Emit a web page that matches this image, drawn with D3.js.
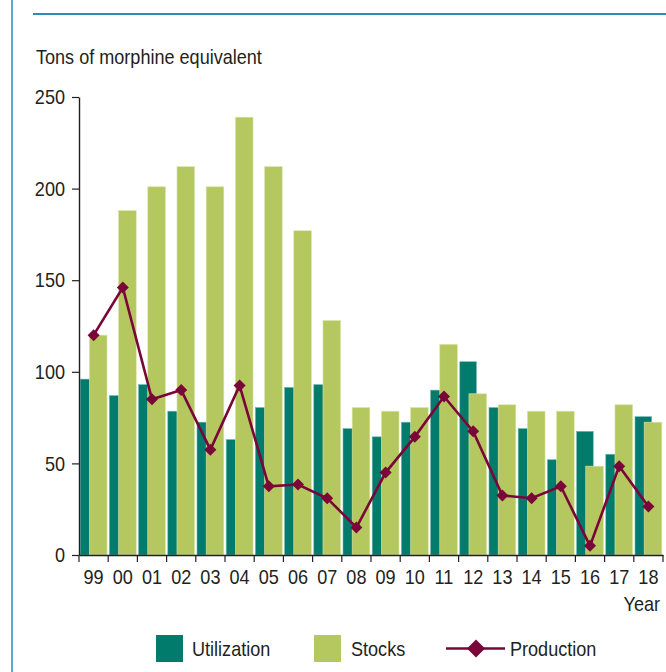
<!DOCTYPE html>
<html>
<head>
<meta charset="utf-8">
<script src="https://cdn.jsdelivr.net/npm/d3@7"></script>
<style>
  html, body { margin: 0; padding: 0; background: #fff; }
  svg text { font-family: "Liberation Sans", Arial, sans-serif; fill: #231f20; }
</style>
</head>
<body>
<div id="chart"></div>
<script>
// Chart data
const years = ['99', '00', '01', '02', '03', '04', '05', '06', '07', '08',
  '09', '10', '11', '12', '13', '14', '15', '16', '17', '18'];
const utilization = [96, 87, 93, 78.5, 72.5, 63, 80.5, 91.5, 93, 69,
  64.5, 72.5, 90, 105.5, 80.5, 69, 52, 67.5, 55, 75.5];
const stocks = [120, 188, 201, 212, 201, 239, 212, 177, 128, 80.5,
  78.5, 80.5, 115, 88, 82, 78.5, 78.5, 48.5, 82, 72.5];
const production = [120, 146, 85, 90, 57.5, 92.5, 37.5, 38.5, 31, 15,
  45, 64.5, 86.5, 67.5, 32.5, 31, 37.5, 5, 48.5, 26.5];
const yTicks = [0, 50, 100, 150, 200, 250];

const width = 666, height = 672;
const fontSize = 21;
const condense = 0.86; // narrow look of the original typeface
const colors = { util: '#007b6c', stocks: '#b5c860', prod: '#7a0538', frame: '#2a8bbd' };

const svg = d3.select('#chart').append('svg')
  .attr('width', width)
  .attr('height', height);

// Frame lines
svg.append('line')
  .attr('x1', 12).attr('x2', 12).attr('y1', 0).attr('y2', height)
  .attr('stroke', '#5aaad0').attr('stroke-width', 2);
svg.append('line')
  .attr('x1', 33).attr('x2', width).attr('y1', 14).attr('y2', 14)
  .attr('stroke', colors.frame).attr('stroke-width', 2);

// Scales
const x = d3.scaleBand().domain(years).range([79, 663]).paddingInner(0).paddingOuter(0);
const y = d3.scaleLinear().domain([0, 250]).range([555, 97]);
const bw = x.bandwidth();

// Unit title
svg.append('text')
  .attr('x', 36).attr('y', 64)
  .attr('font-size', fontSize)
  .text('Tons of morphine equivalent');

// Bars: utilization behind, stocks overlapping on top
svg.append('g').selectAll('rect')
  .data(utilization)
  .join('rect')
  .attr('x', (d, i) => x(years[i]) + 1.2)
  .attr('width', bw * 0.57)
  .attr('y', d => y(d))
  .attr('height', d => y(0) - y(d))
  .attr('fill', colors.util)
  .attr('stroke', '#6fb7ad').attr('stroke-width', 0.6);

svg.append('g').selectAll('rect')
  .data(stocks)
  .join('rect')
  .attr('x', (d, i) => x(years[i]) + bw * 0.355)
  .attr('width', bw * 0.605)
  .attr('y', d => y(d))
  .attr('height', d => y(0) - y(d))
  .attr('fill', colors.stocks)
  .attr('stroke', '#dbe6ad').attr('stroke-width', 0.6);

// Y axis
const yAxis = svg.append('g')
  .attr('transform', 'translate(79,0)')
  .call(d3.axisLeft(y).tickValues(yTicks).tickSize(7).tickSizeOuter(0).tickPadding(7));
yAxis.select('.domain').attr('stroke', '#231f20').attr('stroke-width', 1.4);
yAxis.selectAll('.tick line').attr('stroke', '#231f20').attr('stroke-width', 1.2);
yAxis.selectAll('.tick text').attr('font-size', fontSize).attr('font-family', null).attr('fill', '#231f20');

// X axis: labels centred in bands, ticks at band edges
const xAxis = svg.append('g')
  .attr('transform', `translate(0,${y(0)})`)
  .call(d3.axisBottom(x).tickSize(0).tickSizeOuter(0).tickPadding(14));
xAxis.select('.domain').attr('stroke', '#231f20').attr('stroke-width', 1.4);
xAxis.selectAll('.tick text').attr('font-size', fontSize).attr('font-family', null).attr('fill', '#231f20');
const edges = years.map(d => x(d)).concat([x.range()[1]]);
xAxis.selectAll('line.edge')
  .data(edges)
  .join('line')
  .attr('class', 'edge')
  .attr('x1', d => d).attr('x2', d => d)
  .attr('y1', 0).attr('y2', 7)
  .attr('stroke', '#231f20').attr('stroke-width', 1.2);

svg.append('text')
  .attr('x', 660).attr('y', 611)
  .attr('text-anchor', 'end')
  .attr('font-size', fontSize)
  .text('Year');

// Production line with diamonds
const line = d3.line()
  .x((d, i) => x(years[i]) + bw / 2)
  .y(d => y(d));
svg.append('path')
  .datum(production)
  .attr('d', line)
  .attr('fill', 'none')
  .attr('stroke', colors.prod)
  .attr('stroke-width', 2.6);

const diamond = r => `M0,${-r}L${r},0L0,${r}L${-r},0Z`;
svg.append('g').selectAll('path')
  .data(production)
  .join('path')
  .attr('transform', (d, i) => `translate(${x(years[i]) + bw / 2},${y(d)})`)
  .attr('d', diamond(6))
  .attr('fill', colors.prod);

// Legend
const legend = svg.append('g');
legend.append('rect').attr('x', 156).attr('y', 635).attr('width', 27).attr('height', 27).attr('fill', colors.util);
legend.append('text').attr('x', 192).attr('y', 656).attr('font-size', fontSize).text('Utilization');
legend.append('rect').attr('x', 314).attr('y', 635).attr('width', 27).attr('height', 27).attr('fill', colors.stocks);
legend.append('text').attr('x', 351).attr('y', 656).attr('font-size', fontSize).text('Stocks');
legend.append('line').attr('x1', 446).attr('x2', 505).attr('y1', 648.5).attr('y2', 648.5)
  .attr('stroke', colors.prod).attr('stroke-width', 2.6);
legend.append('path').attr('transform', 'translate(476,648.5)').attr('d', diamond(9)).attr('fill', colors.prod);
legend.append('text').attr('x', 510).attr('y', 656).attr('font-size', fontSize).text('Production');

// Squeeze all text horizontally to mimic the condensed face
svg.selectAll('text').each(function() {
  const w = this.getComputedTextLength();
  this.setAttribute('textLength', w * condense);
  this.setAttribute('lengthAdjust', 'spacingAndGlyphs');
});
</script>
</body>
</html>
